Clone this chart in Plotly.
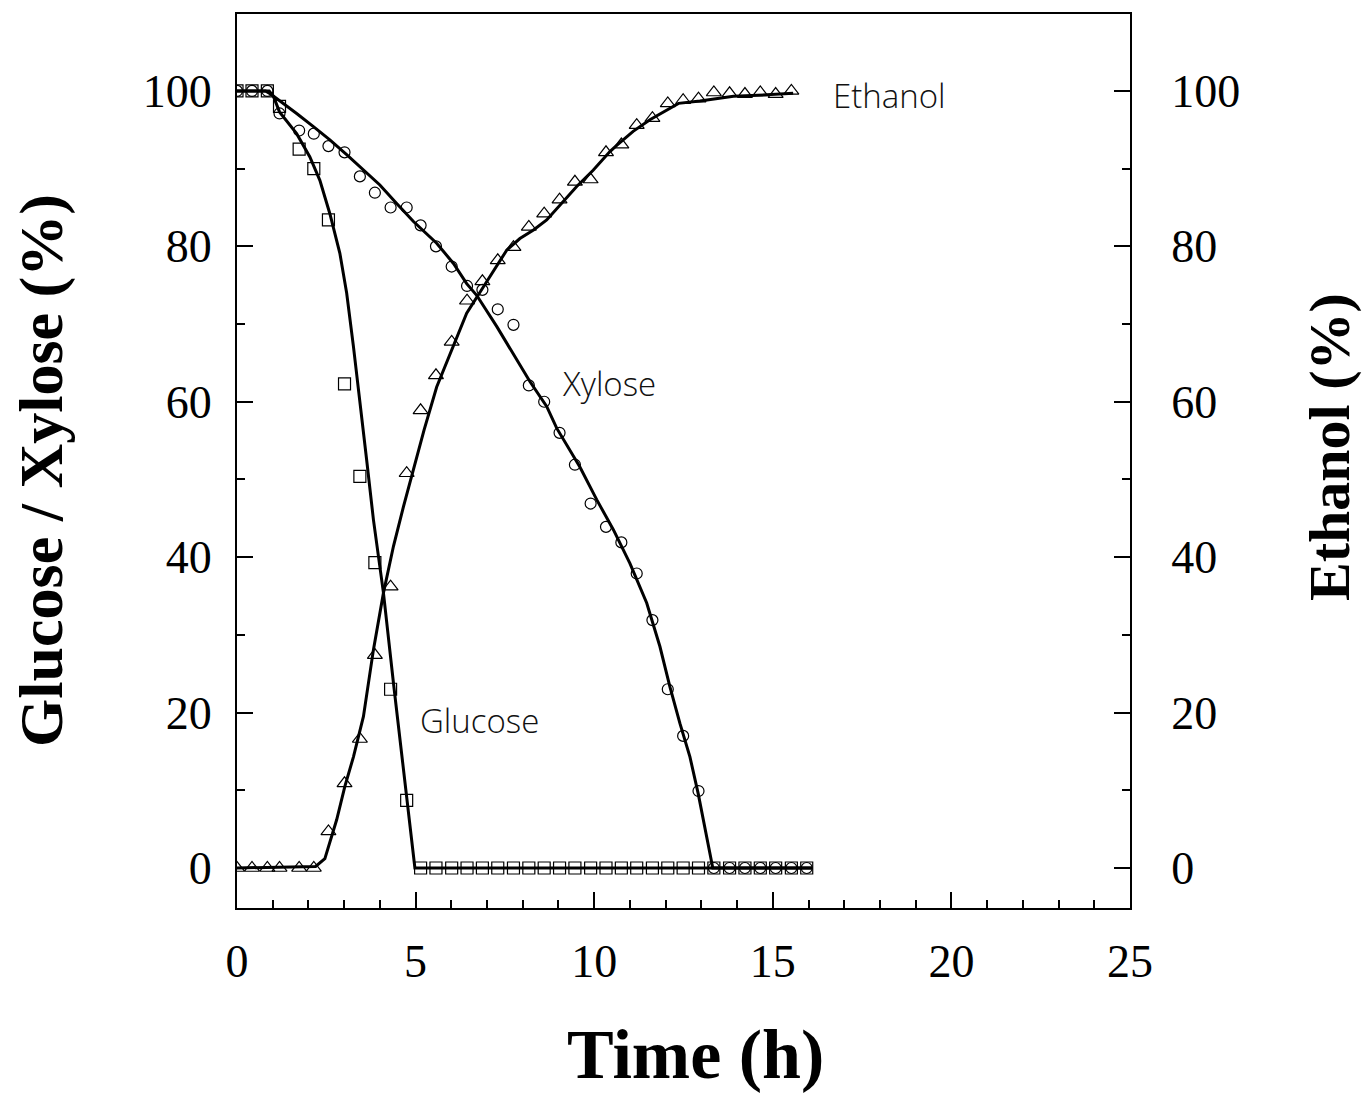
import plotly.graph_objects as go

# Sampling times (h)
time_h = [0, 0.42, 0.85, 1.19, 1.74, 2.15, 2.56, 3.01, 3.44, 3.86, 4.30, 4.75,
          5.14, 5.57, 6.01, 6.44, 6.87, 7.30, 7.74, 8.17, 8.60, 9.03, 9.46, 9.90,
          10.33, 10.76, 11.19, 11.63, 12.06, 12.49, 12.92, 13.35, 13.79, 14.22,
          14.65, 15.08, 15.52, 15.95]

# Measured concentrations (% of initial / final)
glucose = [100, 100, 100, 98.0, 92.5, 90.0, 83.4, 62.3, 50.4, 39.3, 23.0, 8.7,
           0, 0, 0, 0, 0, 0, 0, 0, 0, 0, 0, 0, 0, 0, 0, 0, 0, 0, 0, 0, 0, 0,
           0, 0, 0, 0]
xylose = [100, 100, 100, 97.1, 94.9, 94.5, 92.9, 92.1, 89.0, 86.9, 85.0, 85.0,
          82.7, 80.0, 77.4, 74.9, 74.4, 71.9, 69.9, 62.1, 60.0, 56.0, 51.9, 46.9,
          43.9, 41.9, 37.9, 31.9, 23.0, 17.0, 9.9, 0, 0, 0, 0, 0, 0, 0]
ethanol = [0, 0, 0, 0, 0, 0, 4.7, 10.9, 16.6, 27.4, 36.2, 50.8,
           58.9, 63.4, 67.7, 73.0, 75.5, 78.2, 79.9, 82.5, 84.2, 86.0, 88.3, 88.6,
           92.1, 93.1, 95.6, 96.5, 98.4, 98.8, 99.0, 99.8, 99.7, 99.6, 99.8, 99.6,
           100.0]

# Fitted model curves
glucose_fit_t = [0, 0.9, 1.02, 1.19, 1.67, 2.04, 2.32, 2.60, 2.88, 3.07, 3.26,
                 3.44, 3.63, 3.82, 4.10, 4.38, 4.66, 4.98, 16.1]
glucose_fit = [100, 100, 99.3, 97.3, 94.5, 91.5, 88.5, 84.2, 79.1, 74.0, 67.1,
               60.2, 52.5, 44.8, 35.4, 23.8, 12.6, 0, 0]

xylose_fit_t = [0, 0.8, 0.97, 1.30, 1.67, 2.14, 2.60, 3.07, 3.54, 4.00, 4.47,
                4.94, 5.59, 6.06, 6.43, 6.71, 7.27, 7.74, 8.20, 8.67, 8.95, 9.60,
                10.07, 10.54, 11.00, 11.47, 11.84, 12.12, 12.40, 12.68, 12.91,
                13.32, 16.1]
xylose_fit = [100, 100, 99.5, 98.4, 97.1, 95.4, 93.7, 91.8, 89.8, 87.9, 85.5,
              83.2, 80.4, 77.8, 75.2, 73.7, 69.7, 66.2, 62.6, 59.4, 56.6, 51.6,
              47.4, 43.5, 39.2, 34.1, 28.5, 23.3, 18.6, 14.3, 9.6, 0, 0]

ethanol_fit_t = [0, 2.2, 2.46, 2.60, 2.79, 3.02, 3.26, 3.54, 3.82, 4.10, 4.38,
                 4.66, 4.94, 5.24, 5.59, 6.06, 6.43, 6.90, 7.27, 7.55, 7.92, 8.30,
                 8.67, 9.04, 9.51, 9.97, 10.44, 10.63, 11.09, 11.56, 12.03, 12.36,
                 12.96, 13.90, 14.83, 15.57]
ethanol_fit = [0, 0.2, 1.2, 3.2, 6.2, 10.5, 14.3, 19.5, 28.1, 35.4, 41.4, 46.5,
               51.2, 56.4, 61.9, 67.1, 71.4, 74.8, 77.4, 79.5, 81.0, 82.1, 83.4,
               85.3, 87.7, 89.8, 92.2, 93.0, 94.8, 96.3, 97.6, 98.4, 98.7, 99.3,
               99.5, 99.7]

x_ticks = [0, 5, 10, 15, 20, 25]
y_ticks = [0, 20, 40, 60, 80, 100]
y_range = [-5.15, 109.9]

serif = "Liberation Serif, Times New Roman, serif"
label_font = dict(family="Open Sans, Lato, sans-serif", size=33, color="#111", weight=300)

fig = go.Figure()

line_style = dict(color="black", width=3)
for t, v in [(glucose_fit_t, glucose_fit), (xylose_fit_t, xylose_fit)]:
    fig.add_trace(go.Scatter(x=t, y=v, mode="lines", line=line_style,
                             showlegend=False, hoverinfo="skip"))
fig.add_trace(go.Scatter(x=ethanol_fit_t, y=ethanol_fit, mode="lines", line=line_style,
                         yaxis="y2", showlegend=False, hoverinfo="skip"))

fig.add_trace(go.Scatter(
    x=time_h, y=glucose, mode="markers", name="Glucose",
    marker=dict(symbol="square-open", size=12, color="black", line=dict(width=1.2)),
    showlegend=False))
fig.add_trace(go.Scatter(
    x=time_h, y=xylose, mode="markers", name="Xylose",
    marker=dict(symbol="circle-open", size=11, color="black", line=dict(width=1.2)),
    showlegend=False))
fig.add_trace(go.Scatter(
    x=time_h[:len(ethanol)], y=ethanol, mode="markers", name="Ethanol",
    yaxis="y2",
    marker=dict(symbol="triangle-up-open", size=13, color="black", line=dict(width=1.2)),
    showlegend=False))

axis_common = dict(
    showgrid=False, zeroline=False, showline=True, linecolor="black", linewidth=2,
    ticks="inside", ticklen=16, tickwidth=2, tickcolor="black",
    tickfont=dict(family=serif, size=46, color="black"),
)

fig.update_layout(
    width=1366, height=1094,
    margin=dict(l=237, r=236, t=14, b=186),
    paper_bgcolor="white", plot_bgcolor="white",
    xaxis=dict(range=[0, 25], tickvals=x_ticks, mirror=True,
               minor=dict(dtick=1, ticklen=8, tickwidth=1.5, ticks="inside", tickcolor="black"),
               ticklabelstandoff=12, **axis_common),
    yaxis=dict(range=y_range, tickvals=y_ticks,
               minor=dict(dtick=10, ticklen=8, tickwidth=1.5, ticks="inside", tickcolor="black"),
               ticklabelstandoff=14, **axis_common),
    yaxis2=dict(range=y_range, tickvals=y_ticks, overlaying="y", side="right",
                minor=dict(dtick=10, ticklen=8, tickwidth=1.5, ticks="inside", tickcolor="black"),
                ticklabelstandoff=30, **axis_common),
)

annotations = [
    dict(text="<b>Time (h)</b>", xref="paper", yref="paper", x=0.513, y=-0.1644,
         xanchor="center", yanchor="middle", showarrow=False,
         font=dict(family=serif, size=70, color="black")),
    dict(text="<b>Glucose / Xylose (%)</b>", xref="paper", yref="paper", x=-0.2184, y=0.49,
         xanchor="center", yanchor="middle", textangle=-90, showarrow=False,
         font=dict(family=serif, size=62, color="black")),
    dict(text="<b>Ethanol (%)</b>", xref="paper", yref="paper", x=1.2240, y=0.5157,
         xanchor="center", yanchor="middle", textangle=-90, showarrow=False,
         font=dict(family=serif, size=58, color="black")),
    dict(text="Ethanol", x=16.62, y=99.4, xanchor="left", yanchor="middle",
         showarrow=False, font=label_font),
    dict(text="Xylose", x=9.05, y=62.4, xanchor="left", yanchor="middle",
         showarrow=False, font=label_font),
    dict(text="Glucose", x=5.08, y=19.0, xanchor="left", yanchor="middle",
         showarrow=False, font=label_font),
]
fig.update_layout(annotations=annotations)

fig.write_html("out.html")
